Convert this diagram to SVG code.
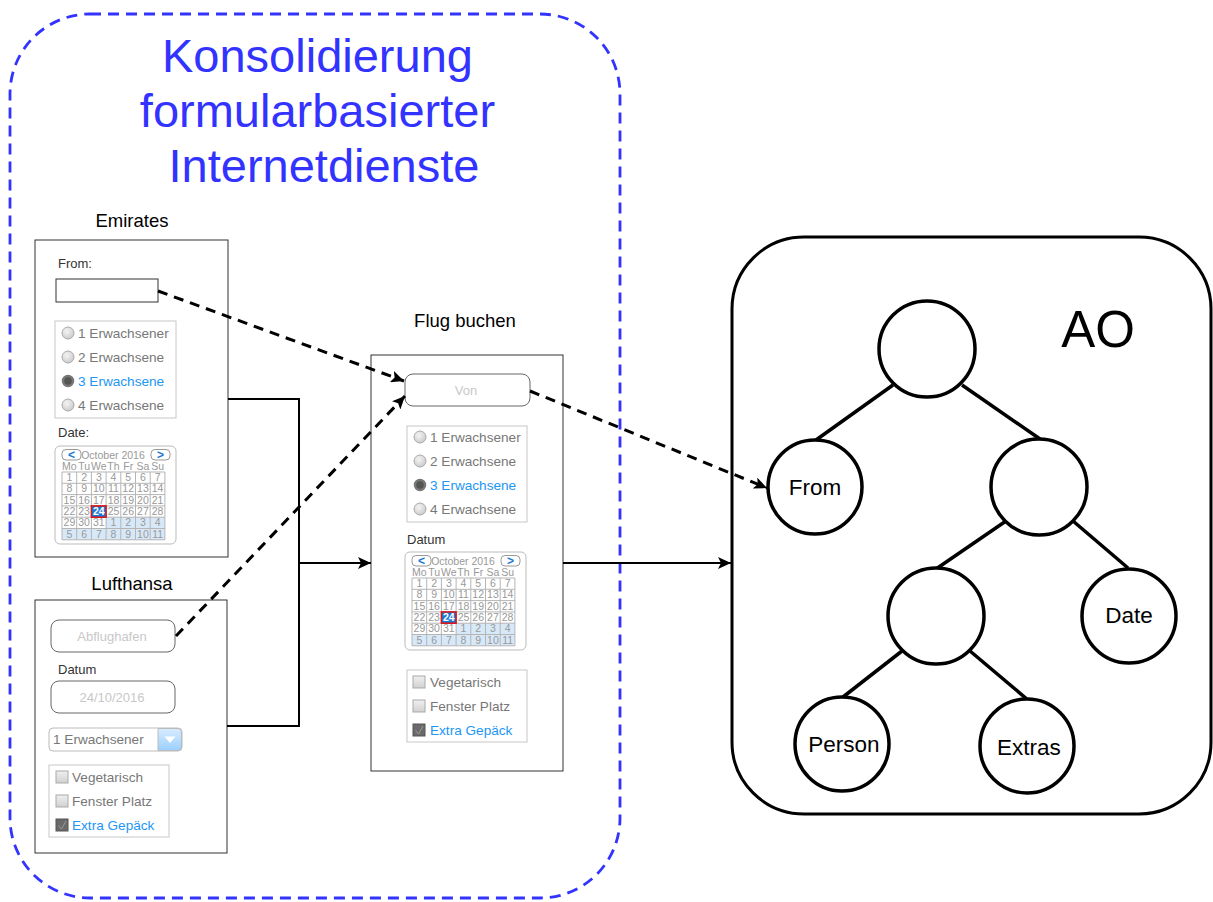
<svg xmlns="http://www.w3.org/2000/svg" width="1213" height="902" viewBox="0 0 1213 902">
  <defs>
    <style>
      .sans { font-family: "Liberation Sans", Arial, sans-serif; }
      .panel { fill: #fff; stroke: #333; stroke-width: 1; }
      .ptitle { font-family: "Liberation Sans", Arial, sans-serif; font-size: 18.5px; fill: #000; text-anchor: middle; }
      .lbl { font-family: "Liberation Sans", Arial, sans-serif; font-size: 13px; fill: #333; }
      .item { font-family: "Liberation Sans", Arial, sans-serif; font-size: 13.6px; fill: #777; }
      .sel { fill: #2196f3; }
      .group { fill: #fff; stroke: #c8c8c8; stroke-width: 1; }
      .ph { font-family: "Liberation Sans", Arial, sans-serif; font-size: 13px; fill: #c8c8c8; text-anchor: middle; }
      .field { fill: #fff; stroke: #666; stroke-width: 1; }
      .radio { fill: url(#gRadio); stroke: #aaa; stroke-width: 1; }
      .radioOn { fill: #555; stroke: #777; stroke-width: 2.5; }
      .chk { fill: url(#gChk); stroke: #aaa; stroke-width: 1; }
      .chkOn { fill: #6a6a6a; stroke: #555; stroke-width: 1; }
      .calbox { fill: #fff; stroke: #bbb; stroke-width: 1; }
      .grid { fill: none; stroke: #b5b5b5; stroke-width: 1; }
      .next { fill: #d7e8f8; }
      .cd { font-family: "Liberation Sans", Arial, sans-serif; font-size: 10.5px; fill: #999; text-anchor: middle; }
      .today { fill: #1a78d6; stroke: #e01010; stroke-width: 1.5; }
      .todayTx { font-family: "Liberation Sans", Arial, sans-serif; font-size: 10.5px; font-weight: bold; fill: #fff; text-anchor: middle; }
      .navbtn { fill: #fff; stroke: #999; stroke-width: 1; }
      .navtx { font-family: "Liberation Sans", Arial, sans-serif; font-size: 12px; font-weight: bold; fill: #1a78d6; text-anchor: middle; }
      .conn { fill: none; stroke: #000; stroke-width: 2; }
      .dash { fill: none; stroke: #000; stroke-width: 3; stroke-dasharray: 10 7; }
      .tnode { fill: #fff; stroke: #000; stroke-width: 3.5; }
      .tedge { stroke: #000; stroke-width: 3.5; }
      .tlabel { font-family: "Liberation Sans", Arial, sans-serif; font-size: 22.5px; fill: #000; text-anchor: middle; }
    </style>
    <radialGradient id="gRadio" cx="0.4" cy="0.35" r="0.7">
      <stop offset="0" stop-color="#f4f4f4"/>
      <stop offset="1" stop-color="#c9c9c9"/>
    </radialGradient>
    <linearGradient id="gChk" x1="0" y1="0" x2="0" y2="1">
      <stop offset="0" stop-color="#f0f0f0"/>
      <stop offset="1" stop-color="#d0d0d0"/>
    </linearGradient>
    <linearGradient id="gDrop" x1="0" y1="0" x2="0" y2="1">
      <stop offset="0" stop-color="#d8ecff"/>
      <stop offset="1" stop-color="#9ccfff"/>
    </linearGradient>
    <marker id="arrow" markerUnits="userSpaceOnUse" markerWidth="14" markerHeight="12" refX="13" refY="6" orient="auto">
      <path d="M0,0 L13,6 L0,12 L3,6 z" fill="#000"/>
    </marker>
  </defs>

  <!-- dashed boundary around the form services -->
  <g id="consolidation">
    <rect x="10" y="14" width="610" height="884" rx="80" ry="80" fill="none" stroke="#3333ff" stroke-width="2.8" stroke-dasharray="11 7"/>
    <text class="sans" font-size="47" fill="#3333ff" text-anchor="middle">
      <tspan x="324" y="72">Konsolidierung</tspan>
      <tspan x="324" y="127">formularbasierter</tspan>
      <tspan x="324" y="182">Internetdienste</tspan>
    </text>
  </g>

  <!-- Emirates form -->
  <g id="emirates">
    <text class="ptitle" x="132" y="227">Emirates</text>
    <rect class="panel" x="35" y="240" width="193" height="317"/>
    <text class="lbl" x="58" y="268" font-size="12">From:</text>
    <rect x="56" y="279" width="102" height="23" fill="#fff" stroke="#333"/>
    <rect class="group" x="55" y="321" width="121" height="97"/>
    <circle class="radio" cx="68" cy="333" r="6"/>
    <text class="item" x="78" y="338">1 Erwachsener</text>
    <circle class="radio" cx="68" cy="357" r="6"/>
    <text class="item" x="78" y="362">2 Erwachsene</text>
    <circle class="radioOn" cx="68" cy="381" r="5"/>
    <text class="item sel" x="78" y="386">3 Erwachsene</text>
    <circle class="radio" cx="68" cy="405" r="6"/>
    <text class="item" x="78" y="410">4 Erwachsene</text>
    <text class="lbl" x="58" y="437">Date:</text>
    <g transform="translate(55,446)">
      <rect class="calbox" x="0" y="0" width="121" height="98" rx="5"/>
      <rect class="navbtn" x="7" y="3.5" width="19" height="10.5" rx="4"/>
      <text class="navtx" x="16.5" y="13">&lt;</text>
      <rect class="navbtn" x="96" y="3.5" width="19" height="10.5" rx="4"/>
      <text class="navtx" x="105.5" y="13">&gt;</text>
      <text class="cd" x="58" y="12.5">October 2016</text>
      <text class="cd" x="14.4" y="24">Mo</text><text class="cd" x="29.1" y="24">Tu</text><text class="cd" x="43.8" y="24">We</text><text class="cd" x="58.5" y="24">Th</text><text class="cd" x="73.2" y="24">Fr</text><text class="cd" x="87.9" y="24">Sa</text><text class="cd" x="102.6" y="24">Su</text>
      <rect class="next" x="51.1" y="71.2" width="58.8" height="11.3"/>
      <rect class="next" x="7" y="82.5" width="102.9" height="11.3"/>
      <path class="grid" d="M7,26H109.9M7,37.3H109.9M7,48.6H109.9M7,59.9H109.9M7,71.2H109.9M7,82.5H109.9M7,93.8H109.9M7,26V93.8M21.7,26V93.8M36.4,26V93.8M51.1,26V93.8M65.8,26V93.8M80.5,26V93.8M95.2,26V93.8M109.9,26V93.8"/>
      <rect class="today" x="36.4" y="59.9" width="14.7" height="11.3"/>
      <text class="cd" x="14.4" y="35">1</text><text class="cd" x="29.1" y="35">2</text><text class="cd" x="43.8" y="35">3</text><text class="cd" x="58.5" y="35">4</text><text class="cd" x="73.2" y="35">5</text><text class="cd" x="87.9" y="35">6</text><text class="cd" x="102.6" y="35">7</text>
      <text class="cd" x="14.4" y="46.3">8</text><text class="cd" x="29.1" y="46.3">9</text><text class="cd" x="43.8" y="46.3">10</text><text class="cd" x="58.5" y="46.3">11</text><text class="cd" x="73.2" y="46.3">12</text><text class="cd" x="87.9" y="46.3">13</text><text class="cd" x="102.6" y="46.3">14</text>
      <text class="cd" x="14.4" y="57.6">15</text><text class="cd" x="29.1" y="57.6">16</text><text class="cd" x="43.8" y="57.6">17</text><text class="cd" x="58.5" y="57.6">18</text><text class="cd" x="73.2" y="57.6">19</text><text class="cd" x="87.9" y="57.6">20</text><text class="cd" x="102.6" y="57.6">21</text>
      <text class="cd" x="14.4" y="68.9">22</text><text class="cd" x="29.1" y="68.9">23</text><text class="todayTx" x="43.8" y="68.9">24</text><text class="cd" x="58.5" y="68.9">25</text><text class="cd" x="73.2" y="68.9">26</text><text class="cd" x="87.9" y="68.9">27</text><text class="cd" x="102.6" y="68.9">28</text>
      <text class="cd" x="14.4" y="80.2">29</text><text class="cd" x="29.1" y="80.2">30</text><text class="cd" x="43.8" y="80.2">31</text><text class="cd" x="58.5" y="80.2">1</text><text class="cd" x="73.2" y="80.2">2</text><text class="cd" x="87.9" y="80.2">3</text><text class="cd" x="102.6" y="80.2">4</text>
      <text class="cd" x="14.4" y="91.5">5</text><text class="cd" x="29.1" y="91.5">6</text><text class="cd" x="43.8" y="91.5">7</text><text class="cd" x="58.5" y="91.5">8</text><text class="cd" x="73.2" y="91.5">9</text><text class="cd" x="87.9" y="91.5">10</text><text class="cd" x="102.6" y="91.5">11</text>
    </g>
  </g>

  <!-- Lufthansa form -->
  <g id="lufthansa">
    <text class="ptitle" x="132" y="590">Lufthansa</text>
    <rect class="panel" x="35" y="600" width="192" height="253"/>
    <rect class="field" x="51" y="620" width="124" height="32" rx="8"/>
    <text class="ph" x="112" y="641">Abflughafen</text>
    <text class="lbl" x="58" y="674">Datum</text>
    <rect class="field" x="51" y="681" width="124" height="32" rx="8"/>
    <text class="ph" x="112" y="702">24/10/2016</text>
    <rect x="49" y="728" width="133" height="23" rx="4" fill="#fff" stroke="#bbb"/>
    <path d="M158,728.5H178a3.5,3.5 0 0 1 3.5,3.5V747a3.5,3.5 0 0 1 -3.5,3.5H158z" fill="url(#gDrop)" stroke="#bbb"/>
    <path d="M164.5,736.5L175.5,736.5L170,743z" fill="#fff"/>
    <text class="item" x="53" y="744">1 Erwachsener</text>
    <rect class="group" x="49" y="765" width="120" height="72"/>
    <rect class="chk" x="56" y="771" width="12" height="12"/>
    <text class="item" x="72" y="782">Vegetarisch</text>
    <rect class="chk" x="56" y="795" width="12" height="12"/>
    <text class="item" x="72" y="806">Fenster Platz</text>
    <rect class="chkOn" x="56" y="819" width="12" height="12"/>
    <path d="M58.5,825.5L61.5,829L66,821" fill="none" stroke="#9a9a9a" stroke-width="1"/>
    <text class="item sel" x="72" y="830">Extra Gepäck</text>
  </g>

  <!-- consolidated booking form -->
  <g id="flug-buchen">
    <text class="ptitle" x="465" y="327">Flug buchen</text>
    <rect class="panel" x="371" y="355" width="192" height="416"/>
    <rect class="field" x="405" y="374" width="125" height="32" rx="8"/>
    <text class="ph" x="466" y="395">Von</text>
    <rect class="group" x="407" y="426" width="120" height="96"/>
    <circle class="radio" cx="420" cy="437" r="6"/>
    <text class="item" x="430" y="442">1 Erwachsener</text>
    <circle class="radio" cx="420" cy="461" r="6"/>
    <text class="item" x="430" y="466">2 Erwachsene</text>
    <circle class="radioOn" cx="420" cy="485" r="5"/>
    <text class="item sel" x="430" y="490">3 Erwachsene</text>
    <circle class="radio" cx="420" cy="509" r="6"/>
    <text class="item" x="430" y="514">4 Erwachsene</text>
    <text class="lbl" x="407" y="544">Datum</text>
    <g transform="translate(405,552)">
      <rect class="calbox" x="0" y="0" width="121" height="98" rx="5"/>
      <rect class="navbtn" x="7" y="3.5" width="19" height="10.5" rx="4"/>
      <text class="navtx" x="16.5" y="13">&lt;</text>
      <rect class="navbtn" x="96" y="3.5" width="19" height="10.5" rx="4"/>
      <text class="navtx" x="105.5" y="13">&gt;</text>
      <text class="cd" x="58" y="12.5">October 2016</text>
      <text class="cd" x="14.4" y="24">Mo</text><text class="cd" x="29.1" y="24">Tu</text><text class="cd" x="43.8" y="24">We</text><text class="cd" x="58.5" y="24">Th</text><text class="cd" x="73.2" y="24">Fr</text><text class="cd" x="87.9" y="24">Sa</text><text class="cd" x="102.6" y="24">Su</text>
      <rect class="next" x="51.1" y="71.2" width="58.8" height="11.3"/>
      <rect class="next" x="7" y="82.5" width="102.9" height="11.3"/>
      <path class="grid" d="M7,26H109.9M7,37.3H109.9M7,48.6H109.9M7,59.9H109.9M7,71.2H109.9M7,82.5H109.9M7,93.8H109.9M7,26V93.8M21.7,26V93.8M36.4,26V93.8M51.1,26V93.8M65.8,26V93.8M80.5,26V93.8M95.2,26V93.8M109.9,26V93.8"/>
      <rect class="today" x="36.4" y="59.9" width="14.7" height="11.3"/>
      <text class="cd" x="14.4" y="35">1</text><text class="cd" x="29.1" y="35">2</text><text class="cd" x="43.8" y="35">3</text><text class="cd" x="58.5" y="35">4</text><text class="cd" x="73.2" y="35">5</text><text class="cd" x="87.9" y="35">6</text><text class="cd" x="102.6" y="35">7</text>
      <text class="cd" x="14.4" y="46.3">8</text><text class="cd" x="29.1" y="46.3">9</text><text class="cd" x="43.8" y="46.3">10</text><text class="cd" x="58.5" y="46.3">11</text><text class="cd" x="73.2" y="46.3">12</text><text class="cd" x="87.9" y="46.3">13</text><text class="cd" x="102.6" y="46.3">14</text>
      <text class="cd" x="14.4" y="57.6">15</text><text class="cd" x="29.1" y="57.6">16</text><text class="cd" x="43.8" y="57.6">17</text><text class="cd" x="58.5" y="57.6">18</text><text class="cd" x="73.2" y="57.6">19</text><text class="cd" x="87.9" y="57.6">20</text><text class="cd" x="102.6" y="57.6">21</text>
      <text class="cd" x="14.4" y="68.9">22</text><text class="cd" x="29.1" y="68.9">23</text><text class="todayTx" x="43.8" y="68.9">24</text><text class="cd" x="58.5" y="68.9">25</text><text class="cd" x="73.2" y="68.9">26</text><text class="cd" x="87.9" y="68.9">27</text><text class="cd" x="102.6" y="68.9">28</text>
      <text class="cd" x="14.4" y="80.2">29</text><text class="cd" x="29.1" y="80.2">30</text><text class="cd" x="43.8" y="80.2">31</text><text class="cd" x="58.5" y="80.2">1</text><text class="cd" x="73.2" y="80.2">2</text><text class="cd" x="87.9" y="80.2">3</text><text class="cd" x="102.6" y="80.2">4</text>
      <text class="cd" x="14.4" y="91.5">5</text><text class="cd" x="29.1" y="91.5">6</text><text class="cd" x="43.8" y="91.5">7</text><text class="cd" x="58.5" y="91.5">8</text><text class="cd" x="73.2" y="91.5">9</text><text class="cd" x="87.9" y="91.5">10</text><text class="cd" x="102.6" y="91.5">11</text>
    </g>
    <rect class="group" x="407" y="670" width="120" height="72"/>
    <rect class="chk" x="413" y="676" width="12" height="12"/>
    <text class="item" x="430" y="687">Vegetarisch</text>
    <rect class="chk" x="413" y="700" width="12" height="12"/>
    <text class="item" x="430" y="711">Fenster Platz</text>
    <rect class="chkOn" x="413" y="724" width="12" height="12"/>
    <path d="M415.5,730.5L418.5,734L423,726" fill="none" stroke="#9a9a9a" stroke-width="1"/>
    <text class="item sel" x="430" y="735">Extra Gepäck</text>
  </g>

  <!-- abstract object tree -->
  <g id="ao">
    <rect x="732" y="237" width="479" height="577" rx="72" ry="72" fill="#fff" stroke="#000" stroke-width="3"/>
    <text class="sans" x="1098" y="347" font-size="51" text-anchor="middle" fill="#000">AO</text>
    <g id="ao-edges">
      <line class="tedge" x1="893" y1="385" x2="816" y2="440"/>
      <line class="tedge" x1="962" y1="385" x2="1040" y2="439"/>
      <line class="tedge" x1="1006" y1="521" x2="936" y2="569"/>
      <line class="tedge" x1="1073" y1="521" x2="1128" y2="568"/>
      <line class="tedge" x1="902" y1="651" x2="843" y2="697"/>
      <line class="tedge" x1="970" y1="651" x2="1028" y2="700"/>
    </g>
    <g id="node-root"><circle class="tnode" cx="927" cy="349" r="48"/></g>
    <g id="node-from"><circle class="tnode" cx="815" cy="487" r="47"/><text class="tlabel" x="815" y="495">From</text></g>
    <g id="node-right"><circle class="tnode" cx="1039" cy="487" r="48"/></g>
    <g id="node-mid"><circle class="tnode" cx="936" cy="616" r="48"/></g>
    <g id="node-date"><circle class="tnode" cx="1129" cy="616" r="47"/><text class="tlabel" x="1129" y="623">Date</text></g>
    <g id="node-person"><circle class="tnode" cx="842" cy="744" r="47"/><text class="tlabel" x="844" y="752">Person</text></g>
    <g id="node-extras"><circle class="tnode" cx="1027" cy="746" r="47"/><text class="tlabel" x="1029" y="755">Extras</text></g>
  </g>

  <!-- connectors -->
  <g id="connectors">
    <path class="conn" d="M228,399H299V563"/>
    <path class="conn" d="M227,726H299V563"/>
    <path class="conn" d="M299,563H371" marker-end="url(#arrow)"/>
    <path class="conn" d="M563,563H731" marker-end="url(#arrow)"/>
    <path class="dash" d="M158,291L404,381" marker-end="url(#arrow)"/>
    <path class="dash" d="M176,636L405,396" marker-end="url(#arrow)"/>
    <path class="dash" d="M530,391L767,488" marker-end="url(#arrow)"/>
  </g>
</svg>
